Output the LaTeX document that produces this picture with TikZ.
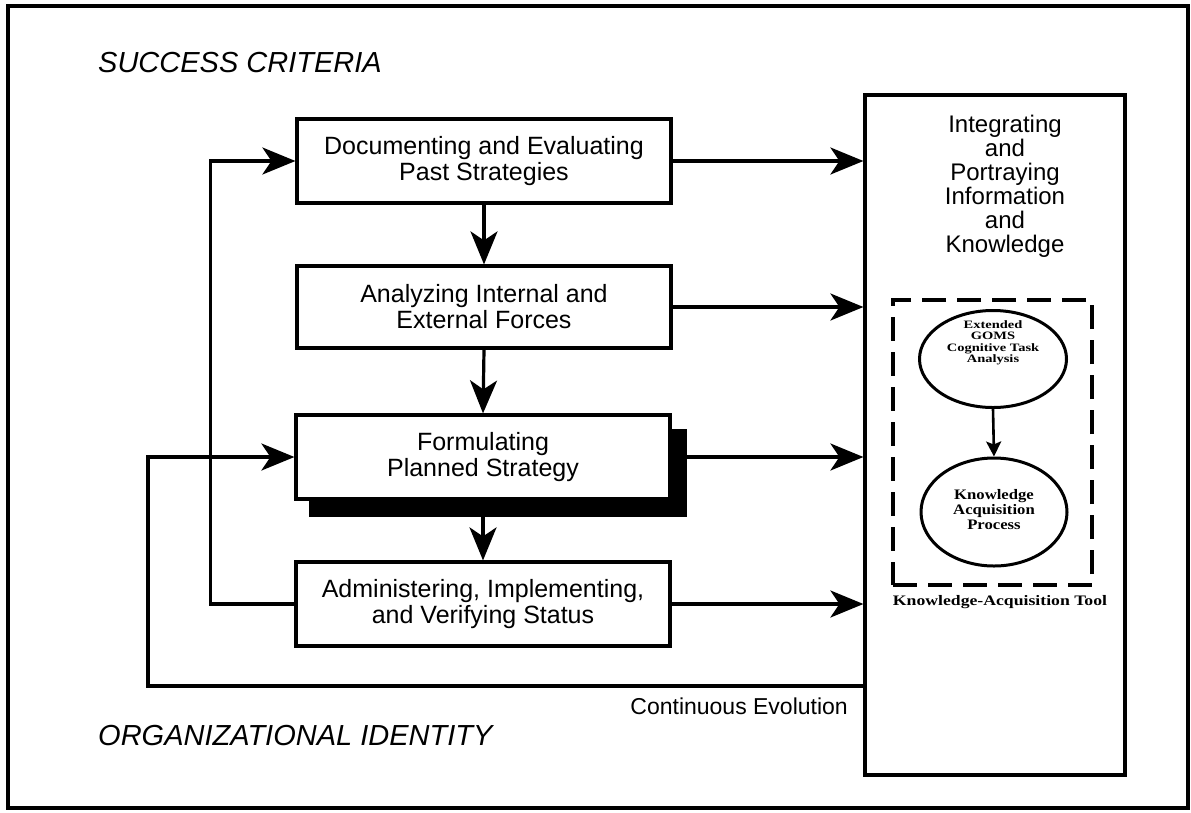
\documentclass[tikz,border=0pt]{standalone}
\usepackage{fontspec}
\setmainfont{Liberation Sans}
\newfontfamily\serifwide[FakeStretch=1.15]{Liberation Serif}
\newfontfamily\serifwider[FakeStretch=1.22]{Liberation Serif}
\newfontfamily\serifwidest[FakeStretch=1.28]{Liberation Serif}
\usetikzlibrary{arrows.meta,shapes.geometric}
\begin{document}
\begin{tikzpicture}[x=1pt,y=-1pt,
  arr/.style={line width=3.2pt,-{Stealth[length=33pt,width=27pt,inset=9pt]}},
  loop/.style={line width=3.2pt,-{Stealth[length=33pt,width=27pt,inset=9pt]}},
  smallarr/.style={line width=2.6pt,-{Stealth[length=15pt,width=15pt,inset=3pt]}},
  stepbox/.style={draw,line width=3.2pt,fill=white,minimum width=374pt,minimum height=84pt,
    align=center,inner sep=0pt,font=\fontsize{25}{26}\selectfont},
  ell/.style={draw,ellipse,line width=3pt,inner sep=0pt},
  elltext/.style={align=center,inner sep=0pt},
  title/.style={anchor=base west,inner sep=0pt,font=\fontsize{29}{32}\selectfont\itshape},
]
\useasboundingbox (0,0) rectangle (1191,812);
\draw[line width=4.5pt] (8,6) rectangle (1188,808);

\node[title] (sc) at (98,72) {SUCCESS CRITERIA};
\node[title] (oi) at (98,745) {ORGANIZATIONAL IDENTITY};

% step boxes
\node[stepbox] (b1) at (484,161) {Documenting and Evaluating\\Past Strategies};
\node[stepbox,minimum height=82pt] (b2) at (484,307) {Analyzing Internal and\\External Forces};
\node[draw,fill=black,line width=3.2pt,minimum width=374pt,minimum height=84pt] (sh) at (498,473) {};
\node[stepbox] (b3) at (483,457) {Formulating\\Planned Strategy};
\node[stepbox] (b4) at (483,604) {Administering, Implementing,\\and Verifying Status};

% right box
\node[draw,line width=3.2pt,minimum width=260pt,minimum height=680pt,inner sep=0pt] (rb) at (995,435) {};
\node[anchor=north,align=center,inner sep=0pt,font=\fontsize{24}{24}\selectfont] (rt) at (1005,115)
  {Integrating\\and\\Portraying\\Information\\and\\Knowledge};

% dashed tool box
\node[draw,dash pattern=on 24pt off 11pt,line width=3.4pt,minimum width=199pt,minimum height=285pt,inner sep=0pt] (kt) at (992.5,442.5) {};
\node[anchor=north,inner sep=0pt,font=\serifwider\bfseries\fontsize{14.5}{15}\selectfont] (ktl) at (1000,595) {Knowledge-Acquisition Tool};
\node[ell,minimum width=147pt,minimum height=97pt] (e1) at (993,359) {};
\node[elltext,font=\serifwidest\bfseries\fontsize{11.3}{11.5}\selectfont] (e1t) at (993,343)
  {Extended\\GOMS\\Cognitive Task\\Analysis};
\node[ell,minimum width=146pt,minimum height=108pt] (e2) at (994,512) {};
\node[elltext,font=\serifwide\bfseries\fontsize{14.5}{15}\selectfont] (e2t) at (994,510)
  {Knowledge\\Acquisition\\Process};
\draw[smallarr] (e1.south) -- (e2.north);

% vertical arrows
\draw[arr] (b1.south) -- (b2.north);
\draw[arr] (b2.south) -- (b3.north);
\draw[arr] (b3.south |- sh.south) -- (b4.north);

% horizontal arrows to right box
\draw[arr] (b1.east) -- (b1.east -| rb.west);
\draw[arr] (b2.east) -- (b2.east -| rb.west);
\draw[arr] (b3.east -| sh.east) -- (b3.east -| rb.west);
\draw[arr] (b4.east) -- (b4.east -| rb.west);

% feedback loops
\draw[loop] (b4.west) -- ++(-84,0) |- (b1.west);
\coordinate (ce) at (rb.west |- 0,686);
\draw[loop] (ce) -- (148,686) |- (b3.west);
\node[anchor=base east,inner sep=0pt,font=\fontsize{23}{24}\selectfont] (cel) at (848,714) {Continuous Evolution};
\end{tikzpicture}
\end{document}
